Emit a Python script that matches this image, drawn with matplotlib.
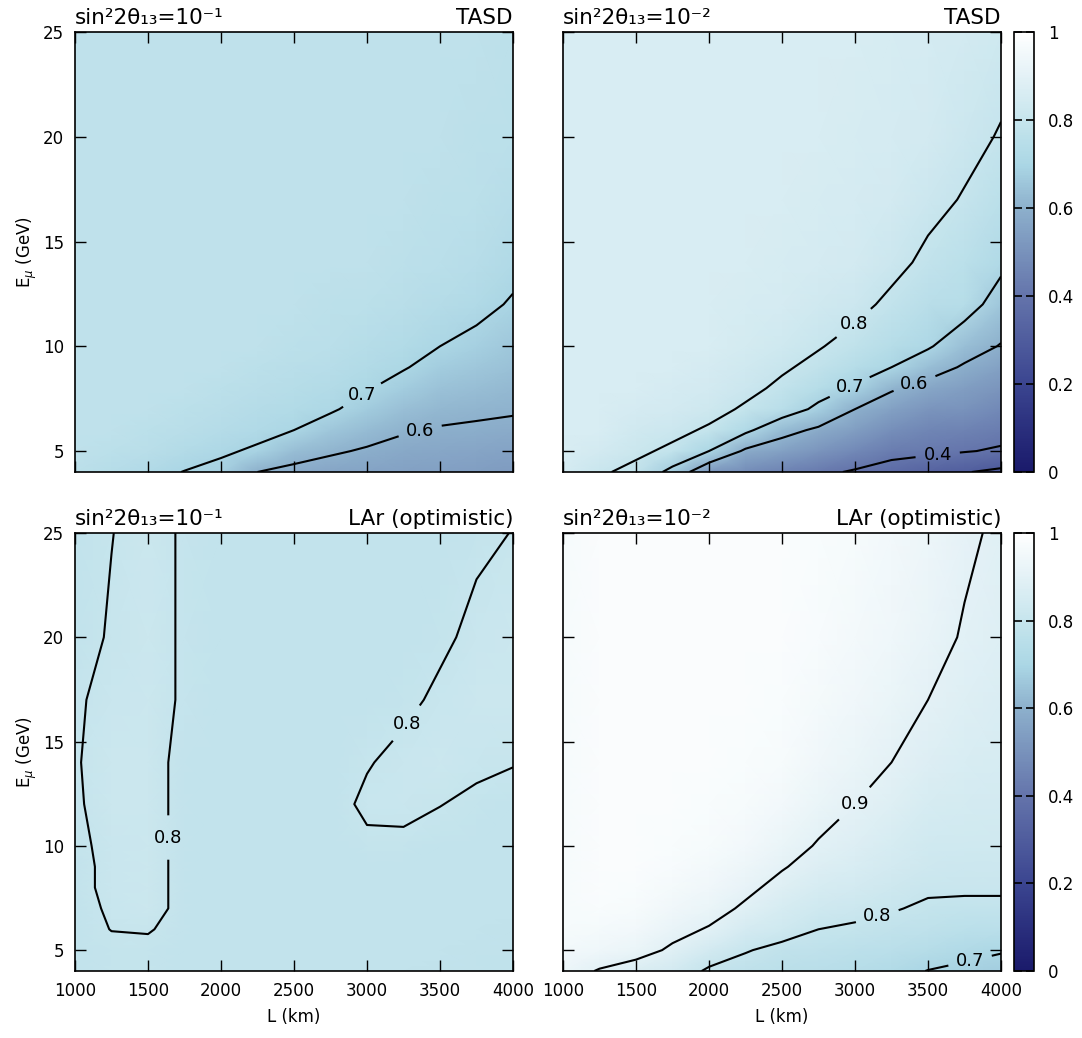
import numpy as np
import matplotlib
matplotlib.use('Agg')
import matplotlib.pyplot as plt
from matplotlib.colors import LinearSegmentedColormap

# grid (rows = E_mu, columns = L)
L_km = [1000, 1250, 1500, 1750, 2000, 2250, 2500, 2750, 3000, 3250, 3500, 3750, 4000]
E_GeV = [4, 5, 6, 7, 8, 9, 10, 12, 14, 17, 20, 25]

# TASD, sin^2 2theta13 = 1e-1
tasd_1 = [
    [0.76, 0.74, 0.72, 0.698, 0.68, 0.60, 0.58, 0.565, 0.555, 0.55, 0.545, 0.54, 0.53],
    [0.77, 0.76, 0.75, 0.73, 0.71, 0.69, 0.633, 0.61, 0.592, 0.575, 0.57, 0.565, 0.558],
    [0.77, 0.77, 0.76, 0.75, 0.735, 0.72, 0.70, 0.66, 0.631, 0.607, 0.595, 0.59, 0.585],
    [0.77, 0.77, 0.77, 0.76, 0.75, 0.735, 0.725, 0.71, 0.669, 0.64, 0.62, 0.613, 0.607],
    [0.77, 0.77, 0.77, 0.77, 0.76, 0.75, 0.74, 0.73, 0.705, 0.673, 0.647, 0.636, 0.624],
    [0.77, 0.77, 0.77, 0.77, 0.77, 0.76, 0.75, 0.745, 0.725, 0.705, 0.674, 0.658, 0.641],
    [0.77, 0.77, 0.77, 0.77, 0.77, 0.77, 0.76, 0.755, 0.74, 0.725, 0.70, 0.68, 0.659],
    [0.77, 0.77, 0.77, 0.77, 0.77, 0.77, 0.77, 0.765, 0.76, 0.75, 0.735, 0.72, 0.693],
    [0.77, 0.77, 0.77, 0.77, 0.77, 0.77, 0.77, 0.77, 0.77, 0.765, 0.755, 0.745, 0.72],
    [0.77, 0.77, 0.77, 0.77, 0.77, 0.77, 0.77, 0.77, 0.77, 0.77, 0.765, 0.76, 0.745],
    [0.77, 0.77, 0.77, 0.77, 0.77, 0.77, 0.77, 0.77, 0.77, 0.77, 0.77, 0.765, 0.76],
    [0.77, 0.77, 0.77, 0.77, 0.77, 0.77, 0.77, 0.77, 0.77, 0.77, 0.77, 0.77, 0.765],
]

# TASD, sin^2 2theta13 = 1e-2
tasd_2 = [
    [0.85, 0.81, 0.78, 0.67, 0.52, 0.48, 0.45, 0.42, 0.39, 0.36, 0.33, 0.305, 0.28],
    [0.86, 0.84, 0.815, 0.785, 0.70, 0.585, 0.55, 0.51, 0.47, 0.43, 0.42, 0.405, 0.39],
    [0.86, 0.86, 0.835, 0.82, 0.79, 0.72, 0.63, 0.585, 0.54, 0.49, 0.46, 0.45, 0.43],
    [0.86, 0.86, 0.85, 0.84, 0.825, 0.79, 0.75, 0.68, 0.60, 0.55, 0.51, 0.50, 0.47],
    [0.86, 0.86, 0.86, 0.85, 0.84, 0.82, 0.785, 0.74, 0.69, 0.61, 0.57, 0.54, 0.51],
    [0.86, 0.86, 0.86, 0.86, 0.85, 0.835, 0.81, 0.78, 0.74, 0.70, 0.64, 0.59, 0.55],
    [0.86, 0.86, 0.86, 0.86, 0.86, 0.845, 0.83, 0.805, 0.775, 0.74, 0.71, 0.64, 0.595],
    [0.86, 0.86, 0.86, 0.86, 0.86, 0.855, 0.85, 0.835, 0.82, 0.785, 0.75, 0.74, 0.66],
    [0.86, 0.86, 0.86, 0.86, 0.86, 0.86, 0.855, 0.85, 0.84, 0.82, 0.785, 0.76, 0.72],
    [0.86, 0.86, 0.86, 0.86, 0.86, 0.86, 0.86, 0.855, 0.85, 0.84, 0.82, 0.795, 0.76],
    [0.86, 0.86, 0.86, 0.86, 0.86, 0.86, 0.86, 0.86, 0.855, 0.85, 0.84, 0.82, 0.795],
    [0.86, 0.86, 0.86, 0.86, 0.86, 0.86, 0.86, 0.86, 0.86, 0.855, 0.85, 0.84, 0.83],
]

# LAr (optimistic), sin^2 2theta13 = 1e-1
lar_1 = [
    [0.785, 0.79, 0.79, 0.785, 0.785, 0.785, 0.785, 0.785, 0.785, 0.785, 0.78, 0.78, 0.775],
    [0.785, 0.79, 0.79, 0.785, 0.785, 0.785, 0.785, 0.785, 0.785, 0.785, 0.785, 0.78, 0.78],
    [0.785, 0.801, 0.803, 0.786, 0.785, 0.785, 0.785, 0.785, 0.785, 0.785, 0.785, 0.785, 0.78],
    [0.785, 0.806, 0.815, 0.788, 0.785, 0.785, 0.785, 0.785, 0.785, 0.785, 0.785, 0.785, 0.785],
    [0.788, 0.81, 0.815, 0.788, 0.785, 0.785, 0.785, 0.785, 0.785, 0.785, 0.785, 0.785, 0.785],
    [0.788, 0.81, 0.815, 0.788, 0.785, 0.785, 0.785, 0.785, 0.785, 0.785, 0.785, 0.785, 0.785],
    [0.79, 0.812, 0.815, 0.788, 0.785, 0.785, 0.785, 0.785, 0.792, 0.79, 0.785, 0.785, 0.785],
    [0.795, 0.815, 0.815, 0.788, 0.785, 0.785, 0.785, 0.785, 0.808, 0.812, 0.801, 0.792, 0.785],
    [0.797, 0.815, 0.815, 0.788, 0.785, 0.785, 0.785, 0.785, 0.797, 0.812, 0.815, 0.808, 0.802],
    [0.795, 0.811, 0.815, 0.795, 0.785, 0.785, 0.785, 0.785, 0.785, 0.79, 0.808, 0.815, 0.815],
    [0.785, 0.804, 0.815, 0.795, 0.785, 0.785, 0.785, 0.785, 0.785, 0.785, 0.792, 0.81, 0.815],
    [0.785, 0.799, 0.815, 0.795, 0.785, 0.785, 0.785, 0.785, 0.785, 0.785, 0.785, 0.792, 0.801],
]

# LAr (optimistic), sin^2 2theta13 = 1e-2
lar_2 = [
    [0.93, 0.895, 0.87, 0.84, 0.79, 0.77, 0.76, 0.75, 0.74, 0.725, 0.698, 0.685, 0.675],
    [0.95, 0.94, 0.925, 0.89, 0.84, 0.805, 0.78, 0.77, 0.765, 0.755, 0.74, 0.72, 0.705],
    [0.965, 0.96, 0.95, 0.92, 0.895, 0.85, 0.83, 0.80, 0.79, 0.78, 0.77, 0.76, 0.755],
    [0.965, 0.975, 0.965, 0.945, 0.925, 0.89, 0.855, 0.83, 0.82, 0.805, 0.79, 0.785, 0.785],
    [0.965, 0.98, 0.975, 0.96, 0.945, 0.915, 0.88, 0.855, 0.84, 0.825, 0.81, 0.81, 0.81],
    [0.965, 0.98, 0.98, 0.97, 0.955, 0.935, 0.905, 0.875, 0.86, 0.84, 0.825, 0.82, 0.82],
    [0.965, 0.98, 0.98, 0.975, 0.965, 0.95, 0.925, 0.895, 0.875, 0.855, 0.835, 0.83, 0.83],
    [0.965, 0.98, 0.98, 0.98, 0.975, 0.965, 0.95, 0.925, 0.90, 0.88, 0.855, 0.845, 0.84],
    [0.965, 0.98, 0.98, 0.98, 0.98, 0.975, 0.965, 0.945, 0.925, 0.90, 0.875, 0.86, 0.855],
    [0.965, 0.98, 0.98, 0.98, 0.98, 0.98, 0.975, 0.96, 0.945, 0.925, 0.90, 0.88, 0.87],
    [0.965, 0.98, 0.98, 0.98, 0.98, 0.98, 0.98, 0.97, 0.955, 0.94, 0.92, 0.895, 0.88],
    [0.965, 0.98, 0.98, 0.98, 0.98, 0.98, 0.98, 0.975, 0.965, 0.95, 0.935, 0.91, 0.89],
]

cmap = LinearSegmentedColormap.from_list('blues', [
    (0.0, '#1a1a6b'), (0.2, '#3b4590'), (0.4, '#6474ab'), (0.6, '#8db0cc'),
    (0.7, '#abd7e5'), (0.8, '#c6e5ed'), (0.9, '#e3f1f6'), (1.0, '#ffffff')])

W, H = 1082, 1038
fig = plt.figure(figsize=(W / 100, H / 100), dpi=100)


def box(x0, y0, x1, y1):
    return [x0 / W, 1 - y1 / H, (x1 - x0) / W, (y1 - y0) / H]


panels = [
    # data, box, left title, right title, labelled levels, plain levels, label spots
    (tasd_1, box(75, 32, 513, 472), 'sin²2θ₁₃=10⁻¹', 'TASD', [0.6, 0.7], [],
     [(2973, 7.6), (3363, 6.0)]),
    (tasd_2, box(563, 32, 1001, 472), 'sin²2θ₁₃=10⁻²', 'TASD', [0.4, 0.6, 0.7, 0.8], [0.3],
     [(2993, 11.1), (2952, 8.2), (3404, 8.3), (3568, 4.7)]),
    (lar_1, box(75, 533, 513, 971), 'sin²2θ₁₃=10⁻¹', 'LAr (optimistic)', [0.8], [],
     [(1610, 10.4), (3226, 16.1)]),
    (lar_2, box(563, 533, 1001, 971), 'sin²2θ₁₃=10⁻²', 'LAr (optimistic)', [0.7, 0.8, 0.9], [],
     [(3050, 11.7), (3150, 6.7), (3788, 4.5)]),
]

for i, (z, pos, ltxt, rtxt, lab, plain, spots) in enumerate(panels):
    ax = fig.add_axes(pos)
    z = np.array(z)
    mesh = ax.pcolormesh(L_km, E_GeV, z, cmap=cmap, vmin=0, vmax=1, shading='gouraud')
    if plain:
        ax.contour(L_km, E_GeV, z, levels=plain, colors='k', linewidths=1.5)
    cs = ax.contour(L_km, E_GeV, z, levels=lab, colors='k', linewidths=1.5)
    texts = ax.clabel(cs, inline=True, fmt='%.1f', fontsize=13, manual=spots,
                      inline_spacing=8)
    for t in texts:
        t.set_rotation(0)
    ax.set_xlim(1000, 4000)
    ax.set_ylim(4, 25)
    ax.set_xticks([1000, 1500, 2000, 2500, 3000, 3500, 4000])
    ax.set_yticks([5, 10, 15, 20, 25])
    ax.tick_params(direction='in', top=True, right=True, length=8, width=1,
                   labelsize=12, pad=8)
    for s in ax.spines.values():
        s.set_linewidth(1.2)
    if i < 2:
        ax.tick_params(labelbottom=False)
    else:
        ax.set_xlabel('L (km)', fontsize=12, labelpad=6)
    if i % 2 == 1:
        ax.tick_params(labelleft=False)
    else:
        ax.set_ylabel(r'E$_\mu$ (GeV)', fontsize=12, labelpad=3)
    ax.text(0, 1.01, ltxt, transform=ax.transAxes, ha='left', va='bottom', fontsize=15.5)
    ax.text(1, 1.01, rtxt, transform=ax.transAxes, ha='right', va='bottom', fontsize=15.5)

    if i % 2 == 1:
        cax = fig.add_axes([1014 / W, pos[1], 20 / W, pos[3]])
        cb = fig.colorbar(mesh, cax=cax, ticks=[0, 0.2, 0.4, 0.6, 0.8, 1])
        cb.ax.set_yticklabels(['0', '0.2', '0.4', '0.6', '0.8', '1'])
        cb.ax.tick_params(direction='in', left=True, right=True, length=6, width=1.2,
                          labelsize=12, pad=10)
        cb.outline.set_linewidth(1.2)

fig.savefig('out.png', dpi=100)
